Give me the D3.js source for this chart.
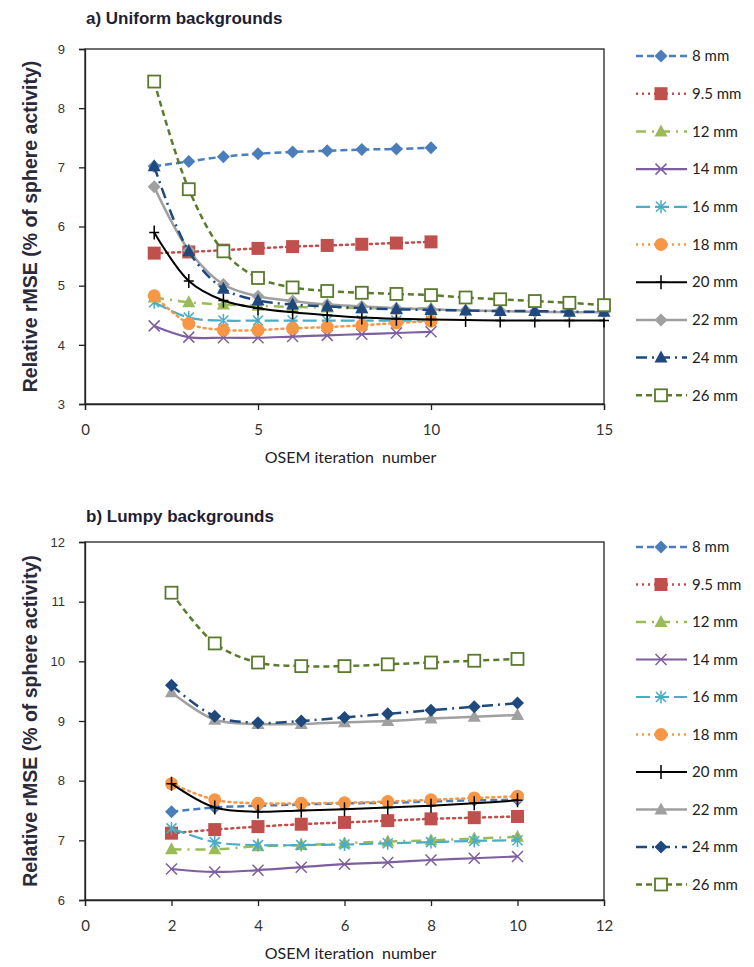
<!DOCTYPE html>
<html>
<head>
<meta charset="utf-8">
<script src="https://cdn.jsdelivr.net/npm/d3@7"></script>
<style>
  body { margin: 0; background: #fff; }
  text.pre { white-space: pre; }
</style>
</head>
<body>
<svg id="chart" width="754" height="967"></svg>
<script>
'use strict';

// sphere sizes in the legend
var sizes = ["8 mm", "9.5 mm", "12 mm", "14 mm", "16 mm", "18 mm", "20 mm", "22 mm", "24 mm", "26 mm"];

// iteration numbers
var itersShort = [2, 3, 4, 5, 6, 7, 8, 9, 10];
var itersLong = [2, 3, 4, 5, 6, 7, 8, 9, 10, 11, 12, 13, 14, 15];

// a) uniform backgrounds, rMSE in %
var uni8  = [7.02, 7.10, 7.18, 7.23, 7.26, 7.28, 7.30, 7.31, 7.33];
var uni95 = [5.55, 5.57, 5.60, 5.63, 5.66, 5.68, 5.70, 5.72, 5.74];
var uni12 = [4.80, 4.72, 4.68, 4.66, 4.64, 4.63, 4.62, 4.62, 4.62];
var uni14 = [4.32, 4.13, 4.12, 4.12, 4.14, 4.16, 4.18, 4.20, 4.22];
var uni16 = [4.72, 4.46, 4.41, 4.41, 4.41, 4.41, 4.41, 4.41, 4.41];
var uni18 = [4.83, 4.36, 4.25, 4.25, 4.28, 4.30, 4.33, 4.37, 4.40];
var uni20 = [5.90, 5.08, 4.75, 4.62, 4.55, 4.50, 4.46, 4.44, 4.43, 4.42, 4.41, 4.41, 4.41, 4.41];
var uni22 = [6.67, 5.60, 5.02, 4.82, 4.74, 4.68, 4.65, 4.62, 4.60, 4.58, 4.57, 4.56, 4.55, 4.55];
var uni24 = [7.02, 5.58, 4.95, 4.75, 4.68, 4.65, 4.62, 4.60, 4.59, 4.58, 4.57, 4.57, 4.56, 4.56];
var uni26 = [8.45, 6.63, 5.58, 5.13, 4.97, 4.91, 4.88, 4.86, 4.84, 4.80, 4.77, 4.74, 4.71, 4.67];

// b) lumpy backgrounds, rMSE in %
var lum8  = [7.48, 7.55, 7.58, 7.60, 7.62, 7.63, 7.65, 7.67, 7.68];
var lum95 = [7.12, 7.18, 7.23, 7.27, 7.30, 7.33, 7.36, 7.38, 7.40];
var lum12 = [6.85, 6.85, 6.90, 6.92, 6.95, 6.98, 7.00, 7.03, 7.06];
var lum14 = [6.52, 6.47, 6.50, 6.55, 6.60, 6.63, 6.67, 6.70, 6.73];
var lum16 = [7.20, 6.97, 6.92, 6.92, 6.93, 6.95, 6.97, 6.99, 7.00];
var lum18 = [7.95, 7.68, 7.62, 7.62, 7.63, 7.65, 7.68, 7.71, 7.74];
var lum20 = [7.95, 7.55, 7.48, 7.50, 7.52, 7.55, 7.58, 7.62, 7.67];
var lum22 = [9.48, 9.02, 8.95, 8.95, 8.98, 9.00, 9.04, 9.07, 9.10];
var lum24 = [9.60, 9.08, 8.97, 9.00, 9.06, 9.12, 9.18, 9.24, 9.30];
var lum26 = [11.15, 10.30, 9.98, 9.92, 9.92, 9.95, 9.98, 10.01, 10.04];

var xTicksA = [0, 5, 10, 15];
var xTicksB = [0, 2, 4, 6, 8, 10, 12];
var yTicksA = [3, 4, 5, 6, 7, 8, 9];
var yTicksB = [6, 7, 8, 9, 10, 11, 12];

var colors = ["#4a7ebb", "#c0504d", "#9bbb59", "#7d5fa0", "#4bacc6",
              "#f79646", "#000000", "#a0a0a0", "#1f497d", "#5b7a2e"];
var dashes = ["7,4", "2,4", "10,6,2,6", null, "14,5",
              "2,4", null, null, "11,5,2,5", "6,4"];
var widths = [2.5, 2.5, 2.5, 2.2, 2.2, 2.5, 2, 2.5, 2.5, 2.5];
var markersA = ["diamond", "square", "triangle", "x", "star", "circle", "plus", "diamond", "triangle", "open"];
var markersB = ["diamond", "square", "triangle", "x", "star", "circle", "plus", "triangle", "diamond", "open"];

var svg = d3.select("#chart");

function drawMarker(g, type, color) {
    if (type === "diamond") {
        g.append("path").attr("d", "M0,-6.5L6.5,0L0,6.5L-6.5,0Z").attr("fill", color);
    } else if (type === "square") {
        g.append("rect").attr("x", -6.5).attr("y", -6.5).attr("width", 13).attr("height", 13).attr("fill", color);
    } else if (type === "triangle") {
        g.append("path").attr("d", "M0,-7L6.5,5L-6.5,5Z").attr("fill", color);
    } else if (type === "circle") {
        g.append("circle").attr("r", 6.5).attr("fill", color);
    } else if (type === "open") {
        g.append("rect").attr("x", -6).attr("y", -6).attr("width", 12).attr("height", 12)
            .attr("fill", "#fff").attr("stroke", color).attr("stroke-width", 1.8);
    } else if (type === "x") {
        g.append("path").attr("d", "M-5.5,-5.5L5.5,5.5M-5.5,5.5L5.5,-5.5")
            .attr("stroke", color).attr("stroke-width", 1.5);
    } else if (type === "star") {
        g.append("path").attr("d", "M-5,-5L5,5M-5,5L5,-5M0,-6.5L0,6.5")
            .attr("stroke", color).attr("stroke-width", 1.5);
    } else if (type === "plus") {
        g.append("path").attr("d", "M0,-7L0,7M-5,0L5,0")
            .attr("stroke", color).attr("stroke-width", 1.5);
    }
}

function panel(cfg) {
    var x = d3.scaleLinear().domain([0, cfg.xMax]).range([85, 604]);
    var y = d3.scaleLinear().domain([cfg.yMin, cfg.yMax]).range([cfg.bottom, cfg.top]);
    var g = svg.append("g");

    // title
    g.append("text").attr("x", 86).attr("y", cfg.titleY)
        .attr("font-family", "Liberation Sans, Arial, sans-serif")
        .attr("font-weight", "bold").attr("font-size", 17).attr("fill", "#1e1e34")
        .text(cfg.title);

    // box
    g.append("rect").attr("x", x.range()[0]).attr("y", cfg.top)
        .attr("width", x.range()[1] - x.range()[0]).attr("height", cfg.bottom - cfg.top)
        .attr("fill", "none").attr("stroke", "#222").attr("stroke-width", 1.3);

    var ya = g.append("g").attr("transform", "translate(85,0)")
        .call(d3.axisLeft(y).tickValues(cfg.yTicks).tickFormat(d3.format("d"))
            .tickSize(6).tickPadding(14));
    ya.selectAll("text").attr("font-family", "Liberation Sans, Arial, sans-serif")
        .attr("font-size", 13).attr("fill", "#333");

    var xa = g.append("g").attr("transform", "translate(0," + cfg.bottom + ")")
        .call(d3.axisBottom(x).tickValues(cfg.xTicks).tickSize(6).tickPadding(14));
    xa.selectAll("text").attr("font-family", "Lato, sans-serif")
        .attr("font-size", 15).attr("fill", "#333");

    [ya, xa].forEach(function (a) {
        a.select(".domain").attr("stroke", "#222").attr("stroke-width", 1.3);
        a.selectAll(".tick line").attr("stroke", "#222").attr("stroke-width", 1.3);
    });

    // axis titles
    g.append("text").attr("transform", "translate(37," + ((cfg.top + cfg.bottom) / 2) + ") rotate(-90)")
        .attr("text-anchor", "middle")
        .attr("font-family", "Liberation Sans, Arial, sans-serif")
        .attr("font-weight", "bold")
        .attr("font-size", 19.5).attr("fill", "#2a2a3a")
        .text("Relative rMSE (% of sphere activity)");
    g.append("text").attr("class", "pre")
        .attr("x", (x.range()[0] + x.range()[1]) / 2 + 6).attr("y", cfg.bottom + 59)
        .attr("text-anchor", "middle")
        .attr("font-family", "Lato, sans-serif")
        .attr("font-size", 16).attr("fill", "#222")
        .text("OSEM iteration  number");

    var line = d3.line().curve(d3.curveCatmullRom)
        .x(function (d) { return x(d[0]); })
        .y(function (d) { return y(d[1]); });

    cfg.series.forEach(function (vals, i) {
        var it = vals.length > 9 ? itersLong : itersShort;
        var pts = vals.map(function (v, j) { return [it[j], v]; });
        g.append("path").datum(pts).attr("d", line)
            .attr("fill", "none").attr("stroke", colors[i])
            .attr("stroke-width", widths[i])
            .attr("stroke-dasharray", dashes[i])
            .attr("stroke-linecap", dashes[i] && dashes[i].indexOf("2,") === 0 ? "round" : "butt");
        pts.forEach(function (p) {
            var m = g.append("g").attr("transform", "translate(" + x(p[0]) + "," + y(p[1]) + ")");
            drawMarker(m, cfg.markers[i], colors[i]);
        });
    });

    // legend
    var lg = g.append("g");
    sizes.forEach(function (s, i) {
        var ly = cfg.legendY + i * cfg.legendStep;
        lg.append("line").attr("x1", 636).attr("x2", 687).attr("y1", ly).attr("y2", ly)
            .attr("stroke", colors[i]).attr("stroke-width", widths[i])
            .attr("stroke-dasharray", dashes[i]);
        var m = lg.append("g").attr("transform", "translate(661," + ly + ")");
        drawMarker(m, cfg.markers[i], colors[i]);
        lg.append("text").attr("x", 692).attr("y", ly).attr("dy", "0.35em")
            .attr("font-family", "Lato, sans-serif").attr("font-size", 15).attr("fill", "#222")
            .text(s);
    });
}

panel({
    title: "a) Uniform backgrounds", titleY: 24,
    top: 49, bottom: 404, xMax: 15, yMin: 3, yMax: 9,
    xTicks: xTicksA, yTicks: yTicksA,
    series: [uni8, uni95, uni12, uni14, uni16, uni18, uni20, uni22, uni24, uni26],
    markers: markersA, legendY: 56, legendStep: 37.7
});

panel({
    title: "b) Lumpy backgrounds", titleY: 522,
    top: 542, bottom: 900, xMax: 12, yMin: 6, yMax: 12,
    xTicks: xTicksB, yTicks: yTicksB,
    series: [lum8, lum95, lum12, lum14, lum16, lum18, lum20, lum22, lum24, lum26],
    markers: markersB, legendY: 547, legendStep: 37.5
});
</script>
</body>
</html>
